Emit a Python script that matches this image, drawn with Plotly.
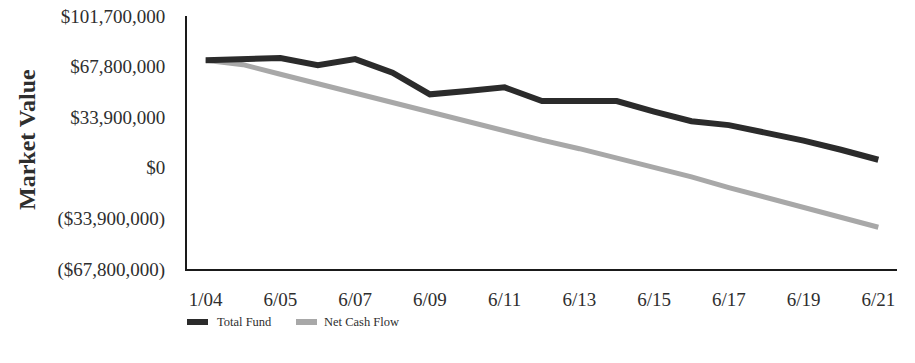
import plotly.graph_objects as go

# Period labels: first observation in January 2004, then each June through 2021
periods = ["1/04"] + [f"6/{yy:02d}" for yy in range(4, 22)]

# Market values in dollars
total_fund = [72.1, 72.8, 73.5, 68.7, 72.8, 63.7, 49.2, 51.4, 53.9, 44.7,
              44.7, 44.7, 37.7, 31.2, 28.6, 23.6, 18.2, 12.1, 5.4]
net_cash_flow = [72.1, 69.1, 62.7, 56.3, 49.7, 43.8, 37.5, 31.1, 24.9, 18.5,
                 12.8, 6.6, 0.2, -6.1, -13.3, -19.8, -26.4, -33.2, -39.8]
total_fund = [v * 1_000_000 for v in total_fund]
net_cash_flow = [v * 1_000_000 for v in net_cash_flow]

# Axis ticks
x_ticks = ["1/04", "6/05", "6/07", "6/09", "6/11", "6/13", "6/15", "6/17", "6/19", "6/21"]
y_tickvals = [101_700_000, 67_800_000, 33_900_000, 0, -33_900_000, -67_800_000]
y_ticktext = ["$101,700,000", "$67,800,000", "$33,900,000", "$0",
              "($33,900,000)", "($67,800,000)"]

series_names = ["Total Fund", "Net Cash Flow"]
dark = "#2b2b2b"
light = "#a8a8a8"
serif = "Liberation Serif, Times New Roman, serif"
ink = "#2e2e2e"

fig = go.Figure()
fig.add_trace(go.Scatter(x=periods, y=net_cash_flow, mode="lines", name=series_names[1],
                         line=dict(color=light, width=5), showlegend=False))
fig.add_trace(go.Scatter(x=periods, y=total_fund, mode="lines", name=series_names[0],
                         line=dict(color=dark, width=6), showlegend=False))

fig.update_layout(
    width=915, height=363,
    margin=dict(l=187, r=18, t=16, b=94, autoexpand=False),
    paper_bgcolor="white", plot_bgcolor="white",
    font=dict(family=serif, color=ink, size=19),
    showlegend=False,
)
fig.update_xaxes(
    type="category", categoryorder="array", categoryarray=periods,
    range=[-0.5, len(periods) - 0.5],
    tickmode="array", tickvals=x_ticks, ticktext=x_ticks,
    showgrid=False, zeroline=False, automargin=False,
    showline=True, linecolor="#1a1a1a", linewidth=2,
    ticks="", ticklabelstandoff=12,
    tickfont=dict(family=serif, size=19, color=ink),
)
fig.update_yaxes(
    range=[-67_800_000, 101_700_000],
    tickmode="array", tickvals=y_tickvals, ticktext=y_ticktext,
    showgrid=False, zeroline=False, automargin=False,
    showline=True, linecolor="#1a1a1a", linewidth=2,
    ticks="", ticklabelstandoff=16,
    tickfont=dict(family=serif, size=19, color=ink),
)

# Vertical axis title
fig.add_annotation(
    text="<b>Market Value</b>", textangle=-90,
    xref="paper", yref="paper", x=-0.2246, y=0.512,
    xanchor="center", yanchor="middle", showarrow=False,
    font=dict(family=serif, size=24, color=ink),
)

# Legend drawn as swatches with labels below the plot
legend_items = [
    (series_names[0], dark, 187, 215),
    (series_names[1], light, 296, 322),
]
plot_w, plot_h, left_px, base_px = 710, 253, 187, 269
for name, color, sx, tx in legend_items:
    fig.add_shape(
        type="rect", xref="paper", yref="paper",
        x0=(sx - left_px) / plot_w, x1=(sx + 21 - left_px) / plot_w,
        y0=(base_px - 325) / plot_h, y1=(base_px - 319) / plot_h,
        fillcolor=color, line=dict(width=0),
    )
    fig.add_annotation(
        text=name, xref="paper", yref="paper",
        x=(tx - left_px) / plot_w, y=(base_px - 322) / plot_h,
        xanchor="left", yanchor="middle", showarrow=False,
        font=dict(family=serif, size=12.5, color=ink),
    )

fig.write_html("out.html")
